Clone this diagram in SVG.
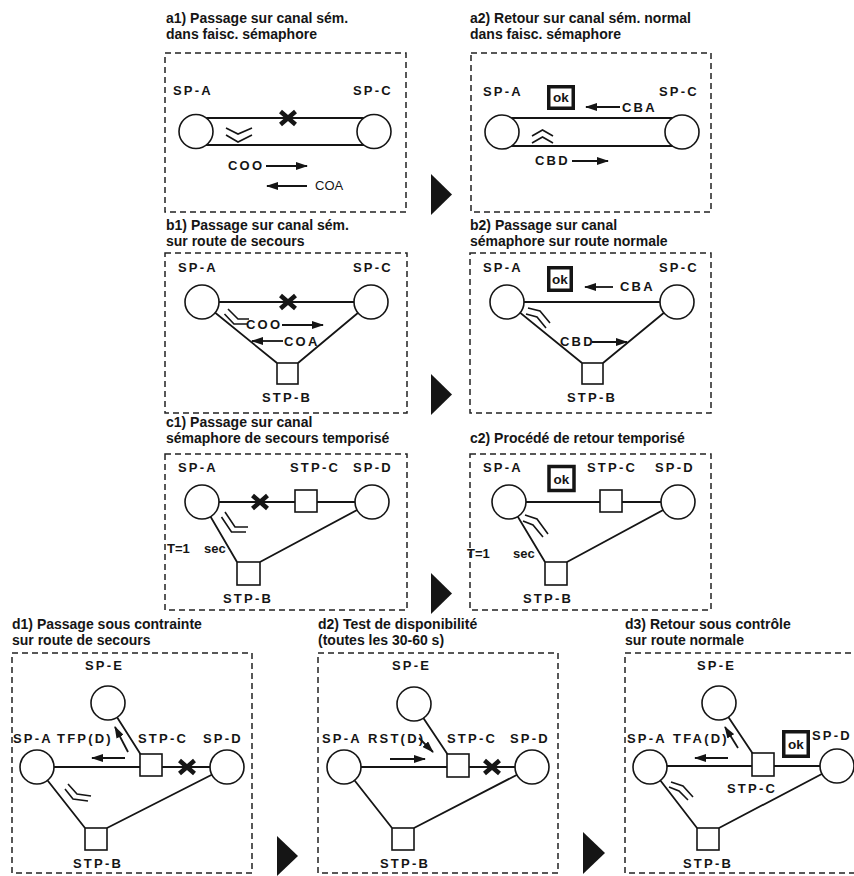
<svg xmlns="http://www.w3.org/2000/svg" xmlns:xlink="http://www.w3.org/1999/xlink" width="854" height="876" viewBox="0 0 854 876">
<style>
.t{font-family:"Liberation Sans",Arial,sans-serif;font-weight:bold;font-size:14px;fill:#151515}
.l{font-family:"Liberation Sans",Arial,sans-serif;font-weight:bold;font-size:13px;letter-spacing:2.2px;fill:#151515}
.n{font-family:"Liberation Sans",Arial,sans-serif;font-weight:bold;font-size:13px;fill:#151515}
.r{font-family:"Liberation Sans",Arial,sans-serif;font-weight:normal;font-size:13px;fill:#151515}
.okt{font-family:"Liberation Sans",Arial,sans-serif;font-weight:bold;font-size:13.5px;fill:#151515;text-anchor:middle}
.box{fill:none;stroke:#222;stroke-width:1.5;stroke-dasharray:6 4}
.ln{stroke:#151515;stroke-width:1.8;fill:none}
.nd{fill:#fff;stroke:#151515;stroke-width:1.6}
.ok{fill:none;stroke:#151515;stroke-width:3.5}
.arr{stroke:#151515;stroke-width:1.8;fill:none;marker-end:url(#ah)}
.xm{stroke:#151515;stroke-width:4.5;fill:none}
.ch{stroke:#151515;stroke-width:1.6;fill:none}
.tri{fill:#151515}
</style>
<defs>
<marker id="ah" markerUnits="userSpaceOnUse" markerWidth="12" markerHeight="8" refX="11" refY="4" orient="auto"><path d="M0,0 L12,4 L0,8 z" fill="#151515"/></marker>
<path id="x" d="M-7.5,-6.5 L7.5,6.5 M-7.5,6.5 L7.5,-6.5"/>
</defs>
<rect width="854" height="876" fill="#fff"/>

<g id="titles">
<text class="t" x="166" y="22.5">a1) Passage sur canal sém.</text>
<text class="t" x="166" y="38.5">dans faisc. sémaphore</text>
<text class="t" x="470" y="22.5">a2) Retour sur canal sém. normal</text>
<text class="t" x="470" y="38.5">dans faisc. sémaphore</text>
<text class="t" x="166" y="230">b1) Passage sur canal sém.</text>
<text class="t" x="166" y="246">sur route de secours</text>
<text class="t" x="470" y="230">b2) Passage sur canal</text>
<text class="t" x="470" y="246">sémaphore sur route normale</text>
<text class="t" x="166" y="427">c1) Passage sur canal</text>
<text class="t" x="166" y="443">sémaphore de secours temporisé</text>
<text class="t" x="470" y="443">c2) Procédé de retour temporisé</text>
<text class="t" x="12" y="629">d1) Passage sous contrainte</text>
<text class="t" x="12" y="645">sur route de secours</text>
<text class="t" x="318" y="629">d2) Test de disponibilité</text>
<text class="t" x="318" y="645">(toutes les 30-60 s)</text>
<text class="t" x="625" y="629">d3) Retour sous contrôle</text>
<text class="t" x="625" y="645">sur route normale</text>
</g>

<g id="frames">
<rect class="box" x="165" y="53" width="241" height="159"/>
<rect class="box" x="471" y="53" width="240" height="159"/>
<rect class="box" x="165" y="253" width="242" height="160"/>
<rect class="box" x="470" y="253" width="241" height="160"/>
<rect class="box" x="165" y="454" width="242" height="156"/>
<rect class="box" x="470" y="454" width="241" height="156"/>
<rect class="box" x="12" y="653" width="240" height="220"/>
<rect class="box" x="318" y="653" width="240" height="220"/>
<rect class="box" x="625" y="653" width="240" height="220"/>
</g>

<g id="steps">
<path class="tri" d="M431,174 L452,194.5 L431,215 z"/>
<path class="tri" d="M431,374 L452,394.5 L431,415 z"/>
<path class="tri" d="M431,573 L452,593.5 L431,614 z"/>
<path class="tri" d="M277,836 L298,856 L277,876 z"/>
<path class="tri" d="M583,832 L605,853 L583,874 z"/>
</g>

<g id="connectors">
<path class="ln" d="M196,118 L374,118 M196,145 L374,145"/>
<path class="ln" d="M502,118 L682,118 M502,146 L682,146"/>
<path class="ln" d="M202,302 L371,302 M202,302 L277,363 M371,302 L298,363"/>
<path class="ln" d="M507,302 L677,302 M507,302 L582,363 M677,302 L603,363"/>
<path class="ln" d="M202,502 L372,502 M202,502 L237,562 M372,502 L260,562"/>
<path class="ln" d="M509,502 L678,502 M509,502 L545,562 M678,502 L567,562"/>
<path class="ln" d="M37,767 L227,767 M108,703 L141,755 M37,767 L85,828 M227,767 L107,828"/>
<path class="ln" d="M344,767 L532,767 M414,704 L448,755 M344,767 L392,828 M532,767 L414,828"/>
<path class="ln" d="M650,766 L837,766 M719,703 L753,754 M650,767 L697,828 M837,766 L719,828"/>
</g>

<g id="a1-spa"><circle class="nd" cx="196" cy="131.5" r="17"/><text class="l" x="173" y="95">SP-A</text></g>
<g id="a1-spc"><circle class="nd" cx="374" cy="131.5" r="17"/><text class="l" x="353" y="95">SP-C</text></g>
<g id="a2-spa"><circle class="nd" cx="502" cy="132" r="17"/><text class="l" x="483" y="96">SP-A</text></g>
<g id="a2-spc"><circle class="nd" cx="682" cy="132" r="17"/><text class="l" x="659" y="96">SP-C</text></g>

<g id="b1-spa"><circle class="nd" cx="202" cy="302" r="17"/><text class="l" x="178" y="272">SP-A</text></g>
<g id="b1-spc"><circle class="nd" cx="371" cy="302" r="17"/><text class="l" x="353" y="272">SP-C</text></g>
<g id="b1-stpb"><rect class="nd" x="277" y="363" width="21" height="21"/><text class="l" x="262" y="402">STP-B</text></g>
<g id="b2-spa"><circle class="nd" cx="507" cy="302" r="17"/><text class="l" x="483" y="272">SP-A</text></g>
<g id="b2-spc"><circle class="nd" cx="677" cy="302" r="17"/><text class="l" x="659" y="272">SP-C</text></g>
<g id="b2-stpb"><rect class="nd" x="582" y="363" width="21" height="21"/><text class="l" x="567" y="402">STP-B</text></g>

<g id="c1-spa"><circle class="nd" cx="202" cy="502" r="17"/><text class="l" x="178" y="472">SP-A</text></g>
<g id="c1-stpc"><rect class="nd" x="295" y="490" width="22" height="22"/><text class="l" x="290" y="472">STP-C</text></g>
<g id="c1-spd"><circle class="nd" cx="372" cy="502" r="17"/><text class="l" x="353" y="472">SP-D</text></g>
<g id="c1-stpb"><rect class="nd" x="237" y="562" width="23" height="23"/><text class="l" x="223" y="603">STP-B</text></g>
<g id="c2-spa"><circle class="nd" cx="509" cy="502" r="17"/><text class="l" x="483" y="472">SP-A</text></g>
<g id="c2-stpc"><rect class="nd" x="600" y="490" width="22" height="22"/><text class="l" x="587" y="472">STP-C</text></g>
<g id="c2-spd"><circle class="nd" cx="678" cy="502" r="17"/><text class="l" x="655" y="472">SP-D</text></g>
<g id="c2-stpb"><rect class="nd" x="545" y="562" width="22" height="23"/><text class="l" x="523" y="603">STP-B</text></g>

<g id="d1-spe"><circle class="nd" cx="108" cy="703" r="17"/><text class="l" x="85" y="670">SP-E</text></g>
<g id="d1-spa"><circle class="nd" cx="37" cy="767" r="17"/><text class="l" x="13" y="743">SP-A</text></g>
<g id="d1-stpc"><rect class="nd" x="140" y="754" width="22" height="22"/><text class="l" x="138" y="743">STP-C</text></g>
<g id="d1-spd"><circle class="nd" cx="227" cy="767" r="17"/><text class="l" x="203" y="743">SP-D</text></g>
<g id="d1-stpb"><rect class="nd" x="85" y="828" width="22" height="22"/><text class="l" x="73" y="868">STP-B</text></g>

<g id="d2-spe"><circle class="nd" cx="414" cy="704" r="17"/><text class="l" x="392" y="670">SP-E</text></g>
<g id="d2-spa"><circle class="nd" cx="344" cy="767" r="17"/><text class="l" x="322" y="743">SP-A</text></g>
<g id="d2-stpc"><rect class="nd" x="447" y="754" width="22" height="23"/><text class="l" x="447" y="743">STP-C</text></g>
<g id="d2-spd"><circle class="nd" cx="532" cy="767" r="17"/><text class="l" x="510" y="743">SP-D</text></g>
<g id="d2-stpb"><rect class="nd" x="392" y="828" width="22" height="22"/><text class="l" x="380" y="868">STP-B</text></g>

<g id="d3-spe"><circle class="nd" cx="719" cy="703" r="17"/><text class="l" x="697" y="670">SP-E</text></g>
<g id="d3-spa"><circle class="nd" cx="650" cy="767" r="17"/><text class="l" x="627" y="743">SP-A</text></g>
<g id="d3-stpc"><rect class="nd" x="752" y="753" width="22" height="23"/><text class="l" x="727" y="793">STP-C</text></g>
<g id="d3-spd"><circle class="nd" cx="837" cy="766" r="17"/><text class="l" x="812" y="740">SP-D</text></g>
<g id="d3-stpb"><rect class="nd" x="697" y="828" width="22" height="22"/><text class="l" x="683" y="868">STP-B</text></g>

<g id="marks">
<use xlink:href="#x" href="#x" class="xm" x="288" y="118"/>
<use xlink:href="#x" href="#x" class="xm" x="288" y="302"/>
<use xlink:href="#x" href="#x" class="xm" x="260" y="502"/>
<use xlink:href="#x" href="#x" class="xm" x="187" y="767"/>
<use xlink:href="#x" href="#x" class="xm" x="492" y="767"/>
<path class="ch" d="M226,128 L238,134 L252,128 M226,135 L238,142 L252,135"/>
<path class="ch" d="M532,136 L542.5,130 L553,136 M532,143 L542.5,137 L553,143"/>
<path class="ch" d="M228,309 L238,319 L249,319 M224.5,314 L234,324 L248,324"/>
<path class="ch" d="M528,308 L540,311 L550,323 M526,314 L537,317 L546,328"/>
<path class="ch" d="M225,512 L235,527 L248,527 M221.5,517 L231.5,532 L246,532"/>
<path class="ch" d="M525,515 L537,519 L548,534 M523,521 L533,525 L543,537"/>
<path class="ch" d="M68,784 L77,794 L91,796 M65,789 L73,799 L88,801"/>
<path class="ch" d="M671,782 L683,786 L693,797 M669,787 L679,791 L688,800"/>
<rect class="ok" x="548.75" y="86.75" width="24.5" height="21.5"/><text class="okt" x="561" y="102">ok</text>
<rect class="ok" x="548.75" y="267.75" width="22.5" height="22.5"/><text class="okt" x="560" y="284">ok</text>
<rect class="ok" x="549" y="466.5" width="25" height="24"/><text class="okt" x="561.5" y="484">ok</text>
<rect class="ok" x="783.75" y="731.75" width="24.5" height="24.5"/><text class="okt" x="796" y="749">ok</text>
</g>

<g id="messages">
<text class="l" x="228" y="170">COO</text><path class="arr" d="M266,166 L307,166"/>
<path class="arr" d="M307,186 L267,186"/><text class="r" x="315" y="190">COA</text>
<path class="arr" d="M620,107 L586,107"/><text class="l" x="622" y="112">CBA</text>
<text class="l" x="535" y="165">CBD</text><path class="arr" d="M572,161 L608,161"/>
<text class="l" x="246" y="329">COO</text><path class="arr" d="M282,325 L323,325"/>
<path class="arr" d="M283,341 L252,341"/><text class="l" x="284" y="346">COA</text>
<path class="arr" d="M613,287 L585,287"/><text class="l" x="620" y="291">CBA</text>
<text class="l" x="560" y="346">CBD</text><path class="arr" d="M592,342 L627,342"/>
<text class="n" x="167" y="553">T=1 <tspan x="204">sec</tspan></text>
<text class="n" x="467" y="558">T=1 <tspan x="513">sec</tspan></text>
<text class="l" x="57" y="743">TFP(D)</text><path class="arr" d="M125,758 L92,758"/><path class="arr" d="M128,752 L115,727"/>
<text class="l" x="368" y="743">RST(D)</text><path class="arr" d="M390,759 L425,759"/><path class="arr" d="M419,738 L433,752"/>
<text class="l" x="673" y="743">TFA(D)</text><path class="arr" d="M728,758 L695,758"/><path class="arr" d="M738,748 L725,727"/>
</g>
</svg>
